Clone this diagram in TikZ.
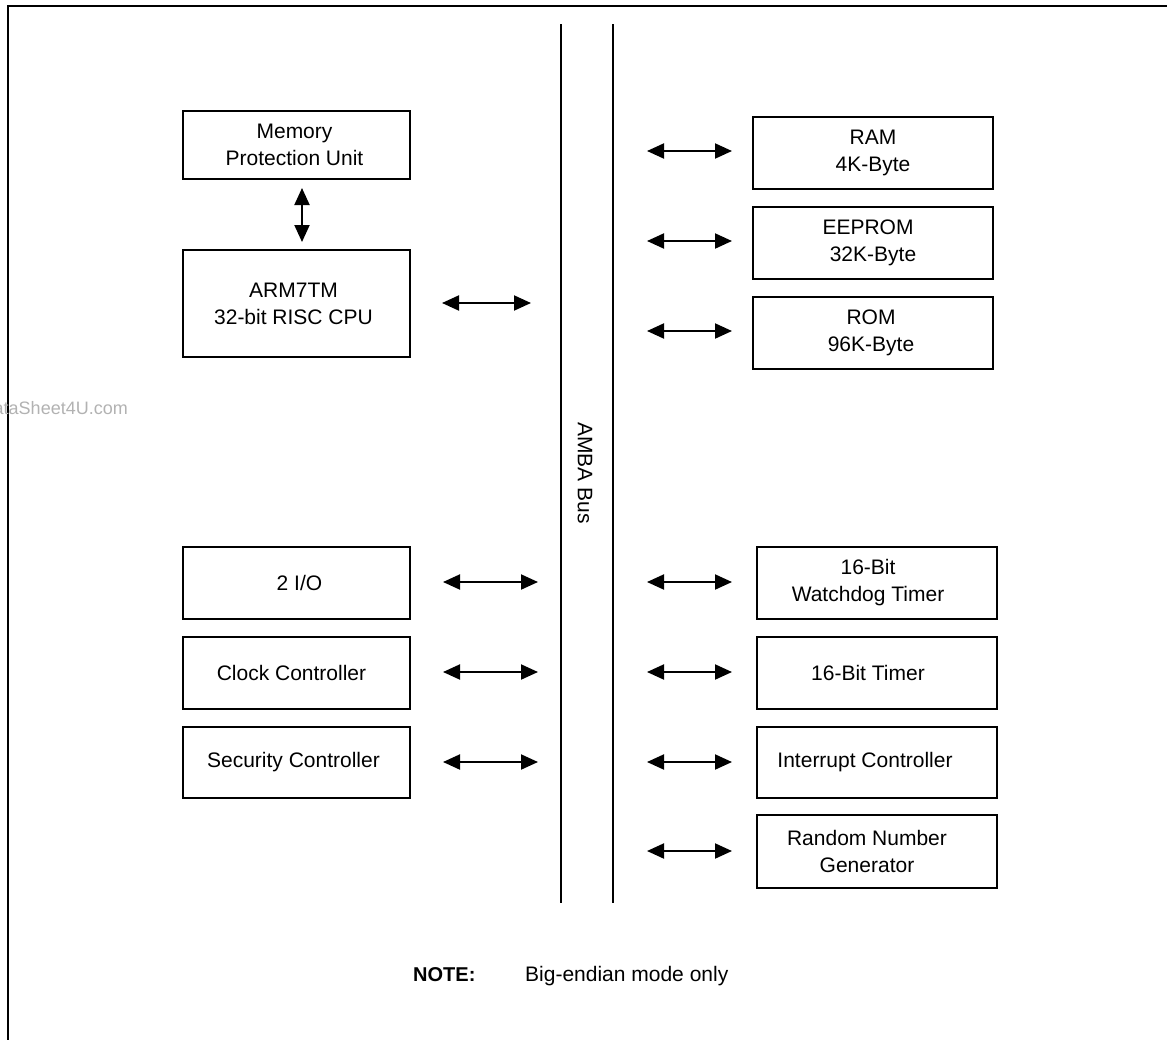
\documentclass[tikz,border=0pt]{standalone}
\usepackage{fontspec}
\setmainfont{Liberation Sans}
\usetikzlibrary{arrows.meta}
\begin{document}
\begin{tikzpicture}[x=1pt,y=-1pt,
  blk/.style={draw, line width=1.4pt, inner sep=0pt},
  lbl/.style={font=\fontsize{21}{27}\selectfont, align=center, inner sep=0pt},
  leftblk/.style={blk, minimum width=227pt},
  rightblk/.style={blk, minimum width=240pt},
  biarrow/.style={line width=2pt, {Triangle[length=17pt,width=15pt]}-{Triangle[length=17pt,width=15pt]}},
  busline/.style={line width=2pt},
]
\useasboundingbox (0,0) rectangle (1167,1039);

% outer frame (top and left edges)
\coordinate (fbl) at (8,1045);
\coordinate (ftl) at (8,6);
\coordinate (ftr) at (1175,6);
\draw[line width=2pt] (fbl) -- (ftl) -- (ftr);

% watermark
\node[anchor=base east, text=black!30, font=\fontsize{18}{20}\selectfont, inner sep=0pt] (wm) at (128,414) {DataSheet4U.com};

% bus
\coordinate (bl1) at (561,24); \coordinate (bl2) at (561,903);
\coordinate (br1) at (613,24); \coordinate (br2) at (613,903);
\draw[busline] (bl1) -- (bl2);
\draw[busline] (br1) -- (br2);
\node[lbl, rotate=-90] (bus) at (585,473) {AMBA Bus};

% left blocks
\node[leftblk, minimum height=68pt] (mpu) at (296.5,145) {};
\node[lbl] (mpu-t) at ([xshift=-2pt]mpu.center) {Memory\\Protection Unit};
\node[leftblk, minimum height=107pt] (cpu) at (296.5,303.5) {};
\node[lbl] (cpu-t) at ([xshift=-3pt]cpu.center) {ARM7TM\\32-bit RISC CPU};
\node[leftblk, minimum height=72pt] (io) at (296.5,583) {};
\node[lbl] (io-t) at ([xshift=3pt]io.center) {2 I/O};
\node[leftblk, minimum height=72pt] (clk) at (296.5,673) {};
\node[lbl] (clk-t) at ([xshift=-5pt]clk.center) {Clock Controller};
\node[leftblk, minimum height=71pt] (sec) at (296.5,762.5) {};
\node[lbl] (sec-t) at ([xshift=-3pt]sec.center) {Security Controller};

% right upper blocks
\node[rightblk, minimum height=72pt] (ram) at (873,153) {};
\node[lbl] (ram-t) at (ram.center) {RAM\\4K-Byte};
\node[rightblk, minimum height=72pt] (eep) at (873,243) {};
\node[lbl] (eep-t) at ([xshift=-5pt]eep.center) {EEPROM\\\hspace*{10pt}32K-Byte};
\node[rightblk, minimum height=72pt] (rom) at (873,333) {};
\node[lbl] (rom-t) at ([xshift=-2pt]rom.center) {ROM\\96K-Byte};

% right lower blocks
\node[rightblk, minimum height=72pt] (wdt) at (877,583) {};
\node[lbl] (wdt-t) at ([xshift=-9pt]wdt.center) {16-Bit\\Watchdog Timer};
\node[rightblk, minimum height=72pt] (tmr) at (877,673) {};
\node[lbl] (tmr-t) at ([xshift=-9pt]tmr.center) {16-Bit Timer};
\node[rightblk, minimum height=71pt] (irq) at (877,762.5) {};
\node[lbl] (irq-t) at ([xshift=-12pt]irq.center) {Interrupt Controller};
\node[rightblk, minimum height=73pt] (rng) at (877,851.5) {};
\node[lbl] (rng-t) at ([xshift=-10pt]rng.center) {Random Number\\Generator};

% arrows
\coordinate (mpuA) at (302,188); \coordinate (cpuA) at (302,242);
\draw[biarrow] (mpuA) -- (cpuA);
\coordinate (cpuL) at (442,303); \coordinate (cpuR) at (531,303);
\draw[biarrow] (cpuL) -- (cpuR);

\foreach \n/\y in {ram/151, eep/241, rom/331, wdt/582, tmr/672, irq/762, rng/851}{
  \coordinate (\n-a1) at (647,\y); \coordinate (\n-a2) at (732,\y);
  \draw[biarrow] (\n-a1) -- (\n-a2);
}
\foreach \n/\y in {io/582, clk/672, sec/762}{
  \coordinate (\n-a1) at (443,\y); \coordinate (\n-a2) at (538,\y);
  \draw[biarrow] (\n-a1) -- (\n-a2);
}

% note
\node[anchor=base west, inner sep=0pt, font=\fontsize{20}{24}\selectfont\bfseries] (note) at (413,981) {NOTE:};
\node[anchor=base west, inner sep=0pt, font=\fontsize{21}{24}\selectfont] (notetext) at (525,981) {Big-endian mode only};
\end{tikzpicture}
\end{document}
